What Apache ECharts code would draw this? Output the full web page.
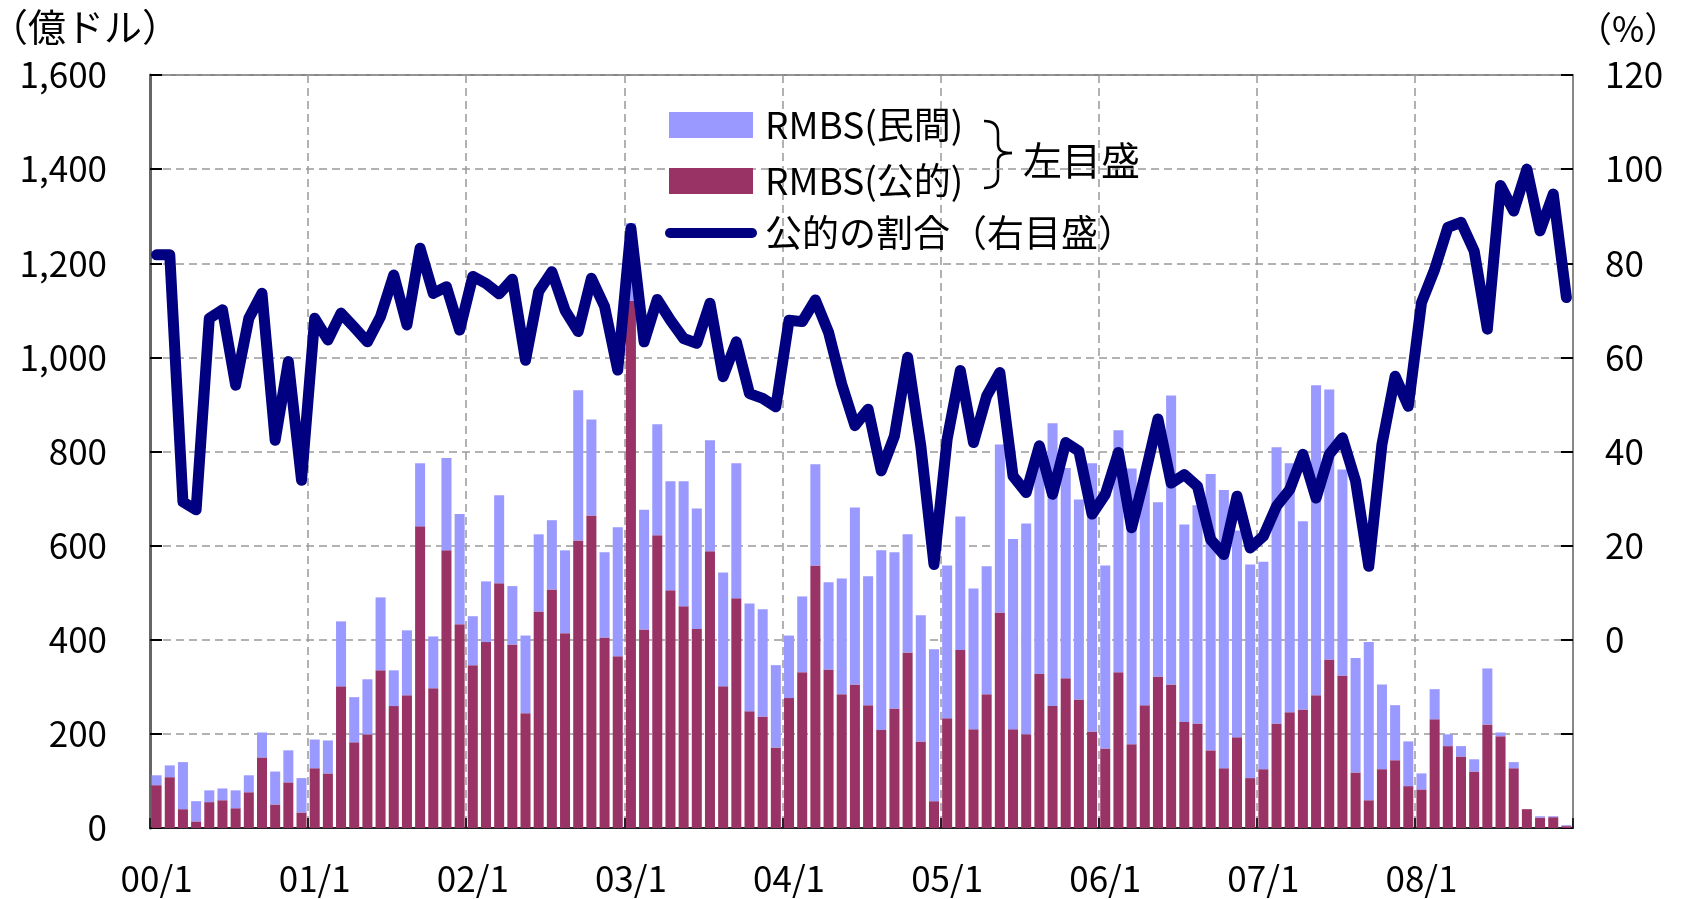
<!DOCTYPE html>
<html lang="ja">
  <head>
    <meta charset="utf-8" />
    <title>RMBS 発行額と公的の割合</title>
    <script src="https://cdn.jsdelivr.net/npm/echarts@6.0.0/dist/echarts.min.js"></script>
    <style>
      html, body { margin: 0; padding: 0; background: #fff; }
      #main { width: 1708px; height: 899px; }
    </style>
  </head>
  <body>
    <div id="main"></div>
    <script type="text/javascript">
      // month labels 00/1 .. 08/12
      const years = ['00', '01', '02', '03', '04', '05', '06', '07', '08'];
      const months = [1, 2, 3, 4, 5, 6, 7, 8, 9, 10, 11, 12];
      const categories = [];
      for (const y of years) {
        for (const m of months) categories.push(y + '/' + m);
      }

      // RMBS(公的) 億ドル
      const publicVals = [
        91, 108, 40, 14, 55, 59, 42, 76, 150, 50, 97, 33,
        127, 116, 301, 182, 199, 335, 259, 282, 641, 297, 590, 433,
        346, 395, 520, 390, 244, 460, 507, 414, 611, 664, 405, 365,
        1120, 422, 622, 505, 471, 423, 588, 301, 488, 248, 237, 171,
        276, 331, 558, 337, 284, 305, 261, 208, 254, 373, 184, 57,
        233, 378, 210, 284, 458, 210, 199, 327, 259, 318, 273, 205,
        169, 331, 178, 261, 322, 305, 225, 222, 165, 127, 193, 106,
        125, 222, 246, 252, 282, 358, 324, 118, 59, 125, 144, 89,
        82, 231, 174, 152, 120, 220, 195, 127, 40, 22, 23, 4
      ];

      // RMBS(民間) 億ドル
      const privateVals = [
        21, 25, 100, 43, 25, 25, 38, 36, 53, 70, 68, 73,
        61, 70, 138, 96, 117, 155, 76, 138, 134, 110, 196, 234,
        104, 129, 187, 124, 165, 164, 147, 176, 319, 204, 181, 274,
        165, 254, 236, 232, 266, 256, 236, 242, 287, 229, 228, 175,
        133, 161, 215, 185, 246, 376, 274, 382, 332, 251, 268, 323,
        325, 284, 299, 272, 357, 404, 448, 463, 601, 447, 425, 570,
        389, 514, 586, 489, 370, 614, 420, 464, 587, 591, 439, 454,
        441, 587, 529, 400, 659, 574, 438, 243, 336, 180, 117, 95,
        34, 64, 25, 22, 26, 119, 8, 13, 0, 3, 2, 2
      ];

      // 公的の割合 %
      const ratioVals = [
        81.8, 81.8, 29.3, 27.6, 68.3, 70.1, 54.1, 68.3, 73.6, 42.4, 59.1, 33.9,
        68.3, 63.7, 69.4, 66.4, 63.3, 68.7, 77.5, 66.9, 83.2, 73.6, 75.0, 65.8,
        77.2, 75.7, 73.5, 76.6, 59.4, 74.0, 78.2, 70.0, 65.5, 76.8, 70.8, 57.3,
        87.4, 63.3, 72.3, 67.9, 64.0, 63.0, 71.5, 55.9, 63.3, 52.3, 51.3, 49.5,
        67.9, 67.6, 72.2, 65.3, 54.3, 45.5, 49.0, 35.9, 43.3, 60.0, 41.2, 16.0,
        42.6, 57.2, 41.9, 51.8, 56.8, 34.8, 31.3, 41.2, 30.9, 41.9, 40.1, 26.7,
        30.9, 39.8, 23.8, 34.8, 46.9, 33.3, 35.1, 32.6, 21.3, 18.1, 30.5, 19.5,
        22.0, 28.4, 31.9, 39.4, 30.1, 39.4, 42.9, 33.7, 15.6, 41.5, 56.0, 49.6,
        71.6, 78.7, 87.6, 88.7, 82.6, 66.0, 96.5, 91.1, 100.0, 86.9, 94.7, 72.7
      ];

      const FONT = '"Noto Sans CJK JP", "Noto Sans", sans-serif';
      const gridDash = { color: '#999', width: 1.5, type: [8, 5] };
      const braceStyle = { fill: null, stroke: '#000', lineWidth: 2.5 };
      // thick rounded stroke used as the legend mark of the ratio line
      const pillIcon = 'path://M5,0 L87,0 A5,5 0 0 1 87,10 L5,10 A5,5 0 0 1 5,0 Z';
      const legendText = { fontFamily: FONT, fontSize: 37, lineHeight: 38, color: '#000' };

      const myChart = echarts.init(document.getElementById('main'));

      const option = {
        backgroundColor: '#fff',
        animation: false,
        textStyle: { fontFamily: FONT, color: '#000' },
        grid: {
          left: 150, right: 135, top: 75, bottom: 71,
          show: true, borderColor: '#888', borderWidth: 2
        },
        legend: [
          {
            orient: 'vertical',
            left: 669,
            top: 106,
            padding: 0,
            itemWidth: 84,
            itemHeight: 26,
            itemGap: 18,
            textStyle: Object.assign({}, legendText, { padding: [0, 0, 0, 7] }),
            data: [
              { name: 'RMBS(民間)', icon: 'rect' },
              { name: 'RMBS(公的)', icon: 'rect' }
            ]
          },
          {
            orient: 'vertical',
            left: 665,
            top: 214,
            padding: 0,
            itemWidth: 92,
            itemHeight: 26,
            textStyle: Object.assign({}, legendText, { padding: [0, 0, 0, 3] }),
            data: [
              { name: '公的の割合（右目盛）', icon: pillIcon }
            ]
          }
        ],
        graphic: [
          {
            type: 'text', x: -10, y: 8,
            style: { text: '（億ドル）', fontSize: 38, fontFamily: FONT, fill: '#000' }
          },
          {
            type: 'text', x: 1577, y: 11,
            style: { text: '（%）', fontSize: 35, fontFamily: FONT, fill: '#000' }
          },
          // brace joining the two bar legends
          { type: 'bezierCurve', shape: { x1: 984, y1: 121, cpx1: 994, cpy1: 121, cpx2: 998, cpy2: 125, x2: 998, y2: 133 }, style: braceStyle },
          { type: 'line', shape: { x1: 998, y1: 133, x2: 998, y2: 144 }, style: braceStyle },
          { type: 'bezierCurve', shape: { x1: 998, y1: 144, cpx1: 998, cpy1: 150, cpx2: 1001, cpy2: 153, x2: 1012, y2: 153 }, style: braceStyle },
          { type: 'bezierCurve', shape: { x1: 1012, y1: 153, cpx1: 1001, cpy1: 153, cpx2: 998, cpy2: 156, x2: 998, y2: 162 }, style: braceStyle },
          { type: 'line', shape: { x1: 998, y1: 162, x2: 998, y2: 177 }, style: braceStyle },
          { type: 'bezierCurve', shape: { x1: 998, y1: 177, cpx1: 998, cpy1: 184, cpx2: 994, cpy2: 188, x2: 984, y2: 188 }, style: braceStyle },
          {
            type: 'text', x: 1023, y: 160,
            style: { text: '左目盛', fontSize: 39, fontFamily: FONT, fill: '#000', verticalAlign: 'middle' }
          }
        ],
        xAxis: {
          type: 'category',
          data: categories,
          boundaryGap: true,
          axisLine: { lineStyle: { color: '#222', width: 2 } },
          axisTick: { show: true, inside: true, length: 10, interval: 11, lineStyle: { color: '#222', width: 2 } },
          axisLabel: { interval: 11, margin: 33, fontSize: 35, color: '#000', fontFamily: FONT },
          splitLine: { show: true, interval: 11, lineStyle: gridDash }
        },
        yAxis: [
          {
            type: 'value',
            min: 0, max: 1600, interval: 200,
            axisLine: { show: true, lineStyle: { color: '#666', width: 3 } },
            axisTick: { show: true, inside: true, length: 12, lineStyle: { color: '#000', width: 2 } },
            axisLabel: {
              margin: 43, fontSize: 35, color: '#000', fontFamily: FONT,
              formatter: v => v.toLocaleString('en-US')
            },
            splitLine: { show: true, lineStyle: gridDash }
          },
          {
            type: 'value',
            min: -40, max: 120, interval: 20,
            axisLine: { show: true, lineStyle: { color: '#888', width: 2 } },
            axisTick: { show: true, inside: true, length: 12, lineStyle: { color: '#000', width: 2 } },
            axisLabel: {
              margin: 32, fontSize: 35, color: '#000', fontFamily: FONT,
              formatter: v => (v >= 0 ? String(v) : '')
            },
            splitLine: { show: false }
          }
        ],
        series: [
          {
            name: 'RMBS(公的)',
            type: 'bar',
            stack: 'rmbs',
            barCategoryGap: '24%',
            itemStyle: { color: '#993366' },
            data: publicVals
          },
          {
            name: 'RMBS(民間)',
            type: 'bar',
            stack: 'rmbs',
            barCategoryGap: '24%',
            itemStyle: { color: '#9999FF' },
            data: privateVals
          },
          {
            name: '公的の割合（右目盛）',
            type: 'line',
            yAxisIndex: 1,
            symbol: 'none',
            z: 5,
            lineStyle: { color: '#000080', width: 11, cap: 'round', join: 'round' },
            itemStyle: { color: '#000080' },
            data: ratioVals
          }
        ]
      };

      myChart.setOption(option);
    </script>
  </body>
</html>
